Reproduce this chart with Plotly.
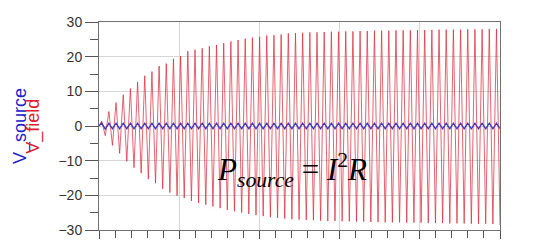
import numpy as np
import plotly.graph_objects as go

# ---- data ----
# time axis: 0..100 (arbitrary units), oscillation period read as ~1.79
t_start = 0.0
t_first_peak = 0.67
period = 1.79

# red V_field: positive peak and negative trough of each cycle
field_peaks = [1.4, 4.2, 6.75, 9.0, 10.8, 12.7, 14.5, 15.7, 17.3, 18.0,
               19.4, 20.2, 21.6, 22.0, 22.4, 23.0, 23.4, 23.9, 24.4, 24.8,
               25.2, 25.5, 25.7, 26.1, 26.2, 26.4, 26.7, 26.8, 26.9, 27.0,
               27.0, 27.1, 27.2, 27.2, 27.3, 27.3, 27.4, 27.4, 27.5, 27.5,
               27.5, 27.6, 27.6, 27.6, 27.7, 27.7, 27.7, 27.8, 27.8, 27.8,
               27.8, 27.9, 27.9, 27.9, 28.0, 28.0]
field_troughs = [-2.8, -5.6, -7.9, -10.2, -12.0, -13.6, -15.3, -16.5, -18.1, -19.2,
                 -20.1, -20.8, -21.6, -22.2, -22.7, -23.2, -23.7, -24.2, -24.6, -25.0,
                 -25.4, -25.7, -26.0, -26.3, -26.5, -26.7, -26.9, -27.0, -27.1, -27.2,
                 -27.3, -27.4, -27.4, -27.5, -27.5, -27.6, -27.6, -27.7, -27.7, -27.8,
                 -27.8, -27.8, -27.9, -27.9, -27.9, -28.0, -28.0, -28.0, -28.1, -28.1,
                 -28.1, -28.2, -28.2, -28.2, -28.3, -28.6]

# blue V_source: small oscillation around zero
source_peaks = [0.9] + [0.8] * 55
source_troughs = [-0.9] + [-0.8] * 55

y_ticks = [-30, -20, -10, 0, 10, 20, 30]
formula = "<i>P</i><sub><i>source</i></sub> = <i>I</i><sup>2</sup><i>R</i>"

# ---- build traces ----
n = len(field_peaks)
t_pk = t_first_peak + period * np.arange(n)
t_tr = t_pk + period / 2
t = np.concatenate([[t_start], np.column_stack([t_pk, t_tr]).ravel()])
v_field = np.concatenate([[0.0], np.column_stack([field_peaks, field_troughs]).ravel()])
v_source = np.concatenate([[0.0], np.column_stack([source_peaks, source_troughs]).ravel()])

fig = go.Figure()
fig.add_trace(go.Scatter(x=t, y=v_field, mode="lines",
                         line=dict(color="rgba(218,40,58,0.72)", width=1), name="V_field"))
fig.add_trace(go.Scatter(x=t, y=v_source, mode="lines",
                         line=dict(color="#4336bd", width=1.3), name="V_source"))

fig.update_layout(
    width=534, height=250,
    margin=dict(l=99, r=34, t=22, b=12),
    paper_bgcolor="white", plot_bgcolor="white",
    showlegend=False,
    font=dict(family="Liberation Sans, Arial, sans-serif", size=14, color="#333"),
)
fig.update_xaxes(
    range=[0, 100], dtick=20, showticklabels=False,
    showgrid=True, gridcolor="#d6d6d6", gridwidth=1,
    showline=True, linecolor="#707070", linewidth=1, mirror=True,
    ticks="outside", ticklen=8, tickcolor="#555",
    minor=dict(dtick=4, ticks="outside", ticklen=7, tickcolor="#555", showgrid=False),
    zeroline=False,
)
fig.update_yaxes(
    range=[-30, 30], tickvals=y_ticks,
    showgrid=True, gridcolor="#d6d6d6", gridwidth=1,
    showline=True, linecolor="#707070", linewidth=1, mirror=True,
    ticks="outside", ticklen=13, tickcolor="#555",
    minor=dict(dtick=5, ticks="outside", ticklen=8, tickcolor="#555", showgrid=False),
    zeroline=False,
    tickfont=dict(size=14, color="#333"),
)

fig.add_annotation(text="V_source", xref="paper", yref="paper",
                   x=-0.197, y=0.5, xanchor="center", yanchor="middle",
                   textangle=-90, showarrow=False,
                   font=dict(size=18, color="#2020c8", family="Liberation Sans, Arial"))
fig.add_annotation(text="V_field", xref="paper", yref="paper",
                   x=-0.165, y=0.5, xanchor="center", yanchor="middle",
                   textangle=-90, showarrow=False,
                   font=dict(size=18, color="#e02030", family="Liberation Sans, Arial"))
fig.add_annotation(text=formula, xref="paper", yref="paper",
                   x=0.4825, y=0.29, xanchor="center", yanchor="middle",
                   showarrow=False,
                   font=dict(size=31, color="black", family="Liberation Serif, Times New Roman, serif"))

fig.write_html("out.html")
